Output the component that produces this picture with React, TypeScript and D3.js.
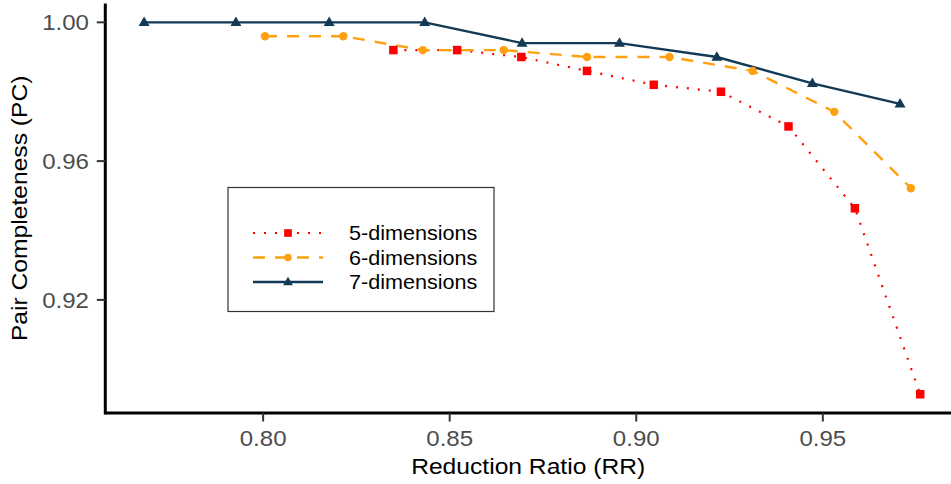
import React from "react";
import * as d3 from "d3";

const rr5 = [0.8349, 0.852, 0.8692, 0.8868, 0.9047, 0.9227, 0.9408, 0.9586, 0.9761];
const pc5 = [0.992, 0.992, 0.99, 0.986, 0.982, 0.98, 0.97, 0.9464, 0.8928];
const rr6 = [0.8005, 0.8215, 0.8428, 0.8645, 0.8868, 0.9089, 0.9312, 0.9531, 0.9736];
const pc6 = [0.996, 0.996, 0.992, 0.992, 0.99, 0.99, 0.986, 0.9742, 0.9522];
const rr7 = [0.7681, 0.7927, 0.8177, 0.8433, 0.8694, 0.8955, 0.9216, 0.9472, 0.9707];
const pc7 = [1.0, 1.0, 1.0, 1.0, 0.994, 0.994, 0.99, 0.9824, 0.9765];

const seriesNames = ["5-dimensions", "6-dimensions", "7-dimensions"];
const xTicks = [0.8, 0.85, 0.9, 0.95];
const yTicks = [0.92, 0.96, 1.0];
const xTitle = "Reduction Ratio (RR)";
const yTitle = "Pair Completeness (PC)";

const W = 951;
const H = 484;
const FONT = "'Liberation Sans', Arial, Helvetica, sans-serif";

const styles = [
  { color: "#FF0000", dash: "2,9", width: 2.2, shape: "square" },
  { color: "#FFA010", dash: "12,10", width: 2.4, shape: "circle" },
  { color: "#123A55", dash: "", width: 2.4, shape: "triangle" },
];

function Marker({ shape, cx, cy, color, s = 1 }: any) {
  if (shape === "square") {
    const a = 8.5 * s;
    return <rect x={cx - a / 2} y={cy - a / 2} width={a} height={a} fill={color} />;
  }
  if (shape === "circle") {
    return <circle cx={cx} cy={cy} r={4.2 * s} fill={color} />;
  }
  const w = 11 * s;
  const h = 9.5 * s;
  const p = `M${cx},${cy - h * 0.62} L${cx + w / 2},${cy + h * 0.38} L${cx - w / 2},${cy + h * 0.38} Z`;
  return <path d={p} fill={color} />;
}

function SText({ x, y, rot = 0, sx = 1.12, size, anchor = "start", fill = "#000", dy, children }: any) {
  return (
    <text
      transform={`translate(${x},${y}) rotate(${rot}) scale(${sx},1)`}
      textAnchor={anchor}
      dy={dy}
      fontFamily={FONT}
      fontSize={size}
      fill={fill}
    >
      {children}
    </text>
  );
}

export default function App() {
  const x = d3.scaleLinear().domain([0.7577, 0.9865]).range([105.3, 959]);
  const y = d3.scaleLinear().domain([0.8874, 1.0054]).range([413, 3.6]);

  const data = [
    rr5.map((v, i) => [v, pc5[i]]),
    rr6.map((v, i) => [v, pc6[i]]),
    rr7.map((v, i) => [v, pc7[i]]),
  ];
  const line = d3
    .line<number[]>()
    .x((d) => x(d[0]))
    .y((d) => y(d[1]));

  const [x0] = x.range();
  const [y0, y1] = y.range();

  const legend = { x: 228, y: 187.5, w: 266, h: 124, rows: [233, 257.5, 282] };

  return (
    <svg width={W} height={H} style={{ position: "absolute", left: 0, top: 0, background: "#fff" }}>
      <rect x={0} y={0} width={W} height={H} fill="#fff" />
      {data.map((d, i) => (
        <path
          key={"l" + i}
          d={line(d) || ""}
          fill="none"
          stroke={styles[i].color}
          strokeWidth={styles[i].width}
          strokeDasharray={styles[i].dash || undefined}
        />
      ))}
      {data.map((d, i) =>
        d.map((p, j) => (
          <Marker key={"p" + i + "-" + j} shape={styles[i].shape} cx={x(p[0])} cy={y(p[1])} color={styles[i].color} />
        ))
      )}
      <line x1={x0} x2={W} y1={y0} y2={y0} stroke="#000" strokeWidth={3} />
      <line x1={x0} x2={x0} y1={y1} y2={y0 + 1.5} stroke="#000" strokeWidth={3} />
      {xTicks.map((t) => (
        <g key={"xt" + t}>
          <line x1={x(t)} x2={x(t)} y1={y0} y2={y0 + 8.5} stroke="#333" strokeWidth={2} />
          <SText x={x(t)} y={446} anchor="middle" size={21.5} fill="#4D4D4D">
            {d3.format(".2f")(t)}
          </SText>
        </g>
      ))}
      {yTicks.map((t) => (
        <g key={"yt" + t}>
          <line x1={x0 - 8.5} x2={x0} y1={y(t)} y2={y(t)} stroke="#333" strokeWidth={2} />
          <SText x={89} y={y(t)} dy="0.36em" anchor="end" size={21.5} fill="#4D4D4D">
            {d3.format(".2f")(t)}
          </SText>
        </g>
      ))}
      <SText x={(x0 + W) / 2} y={474} anchor="middle" size={22}>
        {xTitle}
      </SText>
      <SText x={27} y={(y0 + y1) / 2} rot={-90} anchor="middle" size={22}>
        {yTitle}
      </SText>
      <rect x={legend.x} y={legend.y} width={legend.w} height={legend.h} fill="#fff" stroke="#333" strokeWidth={1.2} />
      {seriesNames.map((name, i) => (
        <g key={"lg" + i}>
          <line
            x1={253}
            x2={323}
            y1={legend.rows[i]}
            y2={legend.rows[i]}
            stroke={styles[i].color}
            strokeWidth={styles[i].width}
            strokeDasharray={styles[i].dash || undefined}
          />
          <Marker shape={styles[i].shape} cx={288} cy={legend.rows[i]} color={styles[i].color} s={0.9} />
          <SText x={349} y={legend.rows[i]} dy="0.36em" size={20} sx={1.08}>
            {name}
          </SText>
        </g>
      ))}
    </svg>
  );
}
